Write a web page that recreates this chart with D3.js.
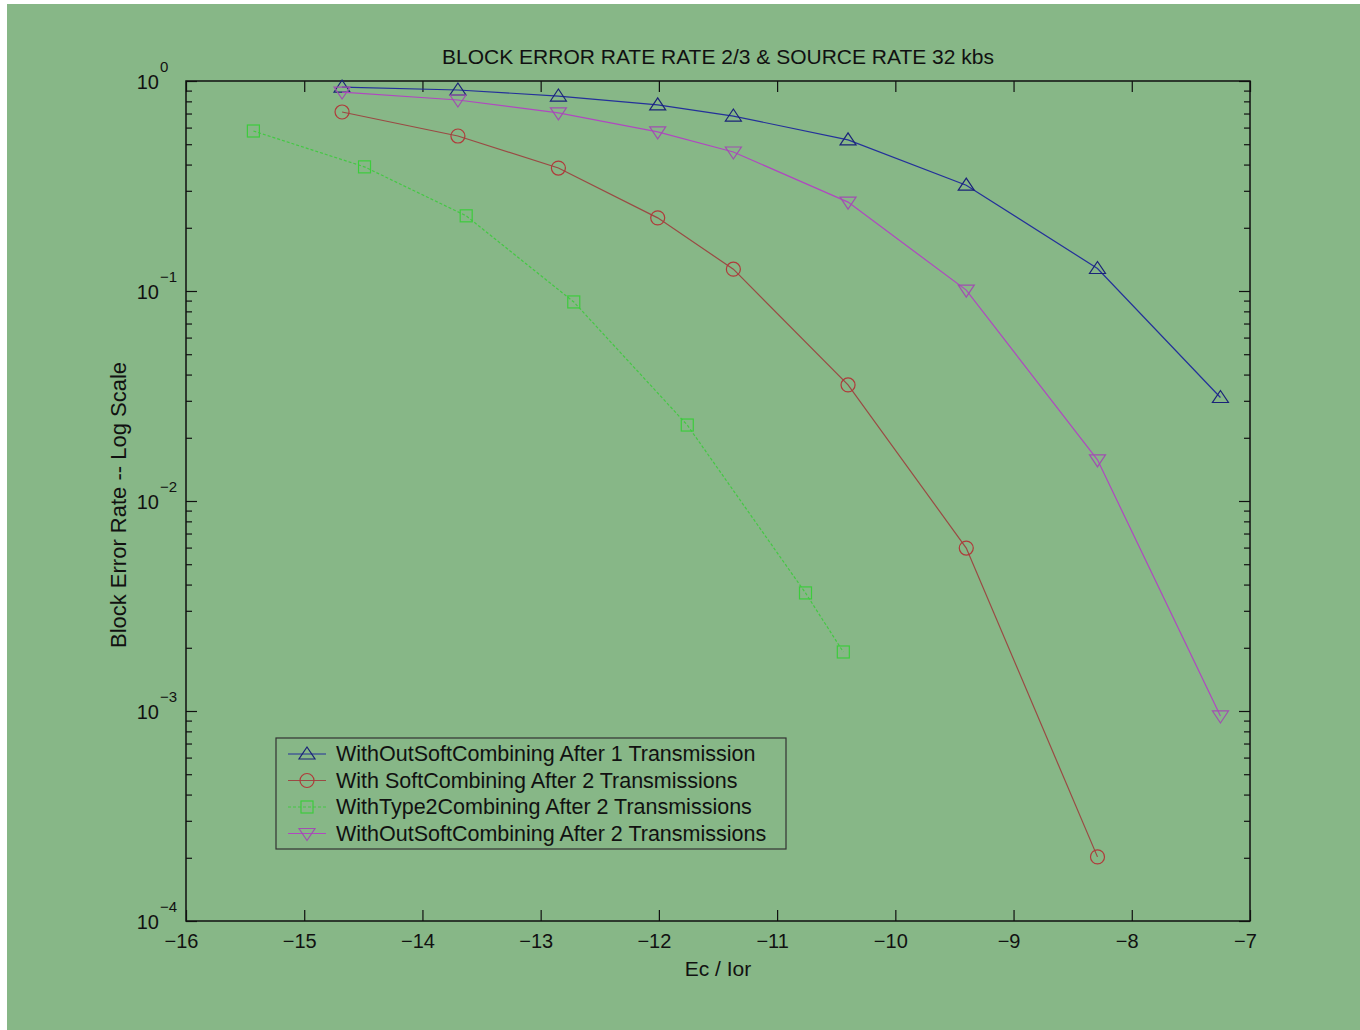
<!DOCTYPE html>
<html>
<head>
<meta charset="utf-8">
<script src="https://cdn.jsdelivr.net/npm/d3@7"></script>
<style>
  body { margin: 0; background: #fff; }
  text { font-family: "Liberation Sans", Arial, sans-serif; fill: #111; }
</style>
</head>
<body>
<div id="chart"></div>
<script>
// Ec/Ior values for each curve
var xOne = [-14.68, -13.70, -12.85, -12.01, -11.37, -10.40, -9.40, -8.29, -7.25];
var xType2 = [-15.43, -14.49, -13.63, -12.72, -11.76, -10.76, -10.44];

// block error rates
var noSoft1 = [0.936, 0.906, 0.848, 0.769, 0.681, 0.524, 0.319, 0.128, 0.0311];
var soft2 = [0.712, 0.547, 0.385, 0.223, 0.127, 0.0357, 0.00597, 0.000202];
var type2 = [0.578, 0.390, 0.228, 0.0887, 0.0230, 0.00365, 0.00191];
var noSoft2 = [0.886, 0.812, 0.705, 0.572, 0.459, 0.265, 0.101, 0.0157, 0.000947];

var xTicks = [-16, -15, -14, -13, -12, -11, -10, -9, -8, -7];
var yExps = [0, -1, -2, -3, -4];

var seriesNames = ["WithOutSoftCombining After 1 Transmission",
                   "With SoftCombining After 2 Transmissions",
                   "WithType2Combining After 2 Transmissions",
                   "WithOutSoftCombining After 2 Transmissions"];

var series = [
  {name: seriesNames[0], xs: xOne, ys: noSoft1, line: "#24309a", mark: "#1a2378", sym: "up"},
  {name: seriesNames[1], xs: xOne, ys: soft2, line: "#9a4a44", mark: "#b03a3a", sym: "circle"},
  {name: seriesNames[2], xs: xType2, ys: type2, line: "#44c844", mark: "#3ccc3c", sym: "square", dash: "3,2"},
  {name: seriesNames[3], xs: xOne, ys: noSoft2, line: "#b048c0", mark: "#a050b0", sym: "down"}
];

var W = 1360, H = 1030;
var svg = d3.select("#chart").append("svg")
    .attr("width", W)
    .attr("height", H);

svg.append("rect")
    .attr("x", 7).attr("y", 4)
    .attr("width", W - 7).attr("height", H - 4)
    .attr("fill", "#87b787");

var pLeft = 186, pRight = 1250, pTop = 81, pBottom = 921;

var x = d3.scaleLinear().domain([-16, -7]).range([pLeft, pRight]);
var y = d3.scaleLog().domain([1e-4, 1]).range([pBottom, pTop]);

var minorVals = [];
yExps.slice(0, 4).forEach(function(e) {
  for (var m = 2; m <= 9; m++) minorVals.push(m * Math.pow(10, e - 1));
});
var majorVals = yExps.map(function(e) { return Math.pow(10, e); });

function styleAxis(g) {
  g.select(".domain").remove();
  g.selectAll("line").attr("stroke", "#111").attr("stroke-width", 1.2);
}

// x axes (bottom with labels, top ticks only)
svg.append("g")
    .attr("transform", "translate(0," + pBottom + ")")
    .call(d3.axisBottom(x).tickValues(xTicks).tickSize(-11).tickPadding(13))
    .call(styleAxis)
    .selectAll("text")
      .attr("font-size", 20)
      .attr("dx", -5)
      .style("font-family", "Liberation Sans, Arial, sans-serif")
      .attr("fill", "#111");

svg.append("g")
    .attr("transform", "translate(0," + pTop + ")")
    .call(d3.axisTop(x).tickValues(xTicks).tickSize(-11).tickFormat(""))
    .call(styleAxis);

// y axes, major and minor ticks on both sides
svg.append("g")
    .attr("transform", "translate(" + pLeft + ",0)")
    .call(d3.axisLeft(y).tickValues(majorVals).tickSize(-11).tickFormat(""))
    .call(styleAxis);
svg.append("g")
    .attr("transform", "translate(" + pLeft + ",0)")
    .call(d3.axisLeft(y).tickValues(minorVals).tickSize(-6).tickFormat(""))
    .call(styleAxis);
svg.append("g")
    .attr("transform", "translate(" + pRight + ",0)")
    .call(d3.axisRight(y).tickValues(majorVals).tickSize(-11).tickFormat(""))
    .call(styleAxis);
svg.append("g")
    .attr("transform", "translate(" + pRight + ",0)")
    .call(d3.axisRight(y).tickValues(minorVals).tickSize(-6).tickFormat(""))
    .call(styleAxis);

// frame
svg.append("rect")
    .attr("x", pLeft).attr("y", pTop)
    .attr("width", pRight - pLeft).attr("height", pBottom - pTop)
    .attr("fill", "none")
    .attr("stroke", "#111")
    .attr("stroke-width", 1.5);

// y tick labels 10^n
var ylab = svg.append("g").selectAll("g")
    .data(yExps)
    .enter().append("g")
      .attr("transform", function(d) { return "translate(0," + y(Math.pow(10, d)) + ")"; });
ylab.append("text")
    .attr("x", 159)
    .attr("y", 8)
    .attr("text-anchor", "end")
    .attr("font-size", 20)
    .text("10");
ylab.append("text")
    .attr("x", 160)
    .attr("y", -9)
    .attr("font-size", 15)
    .text(function(d) { return d === 0 ? "0" : "\u2212" + (-d); });

// title and axis labels
svg.append("text")
    .attr("x", (pLeft + pRight) / 2)
    .attr("y", 64)
    .attr("text-anchor", "middle")
    .attr("font-size", 21)
    .text("BLOCK ERROR RATE RATE 2/3 & SOURCE RATE 32 kbs");

svg.append("text")
    .attr("x", (pLeft + pRight) / 2)
    .attr("y", 976)
    .attr("text-anchor", "middle")
    .attr("font-size", 21)
    .text("Ec / Ior");

svg.append("text")
    .attr("transform", "translate(126,505) rotate(-90)")
    .attr("text-anchor", "middle")
    .attr("font-size", 22)
    .text("Block Error Rate -- Log Scale");

// markers
function drawMarker(sel, sym, color) {
  if (sym === "circle") {
    sel.append("circle").attr("r", 7)
        .attr("fill", "none").attr("stroke", color).attr("stroke-width", 1.2);
  } else if (sym === "square") {
    sel.append("rect").attr("x", -6).attr("y", -6).attr("width", 12).attr("height", 12)
        .attr("fill", "none").attr("stroke", color).attr("stroke-width", 1.2);
  } else {
    var t = sym === "up" ? "M0,-7L8,5L-8,5Z" : "M0,7L8,-5L-8,-5Z";
    sel.append("path").attr("d", t)
        .attr("fill", "none").attr("stroke", color).attr("stroke-width", 1.2);
  }
}

var line = d3.line()
    .x(function(d) { return x(d[0]); })
    .y(function(d) { return y(d[1]); });

series.forEach(function(s) {
  var pts = s.ys.map(function(v, i) { return [s.xs[i], v]; });
  svg.append("path")
      .datum(pts)
      .attr("d", line)
      .attr("fill", "none")
      .attr("stroke", s.line)
      .attr("stroke-width", 1.2)
      .attr("stroke-dasharray", s.dash || null);
  var m = svg.append("g").selectAll("g")
      .data(pts)
      .enter().append("g")
        .attr("transform", function(d) { return "translate(" + x(d[0]) + "," + y(d[1]) + ")"; });
  drawMarker(m, s.sym, s.mark);
});

// legend
var legend = svg.append("g").attr("transform", "translate(276,738)");
legend.append("rect")
    .attr("width", 510).attr("height", 111)
    .attr("fill", "none")
    .attr("stroke", "#333")
    .attr("stroke-width", 1.2);

var rows = legend.selectAll(".row")
    .data(series)
    .enter().append("g")
      .attr("class", "row")
      .attr("transform", function(d, i) { return "translate(0," + (16 + i * 26.5) + ")"; });
rows.append("line")
    .attr("x1", 12).attr("x2", 50)
    .attr("stroke", function(d) { return d.line; })
    .attr("stroke-width", 1.2)
    .attr("stroke-dasharray", function(d) { return d.dash || null; });
rows.each(function(d) {
  var g = d3.select(this).append("g").attr("transform", "translate(31,0)");
  drawMarker(g, d.sym, d.mark);
});
rows.append("text")
    .attr("x", 60)
    .attr("y", 7)
    .attr("font-size", 21.5)
    .text(function(d) { return d.name; });
</script>
</body>
</html>
